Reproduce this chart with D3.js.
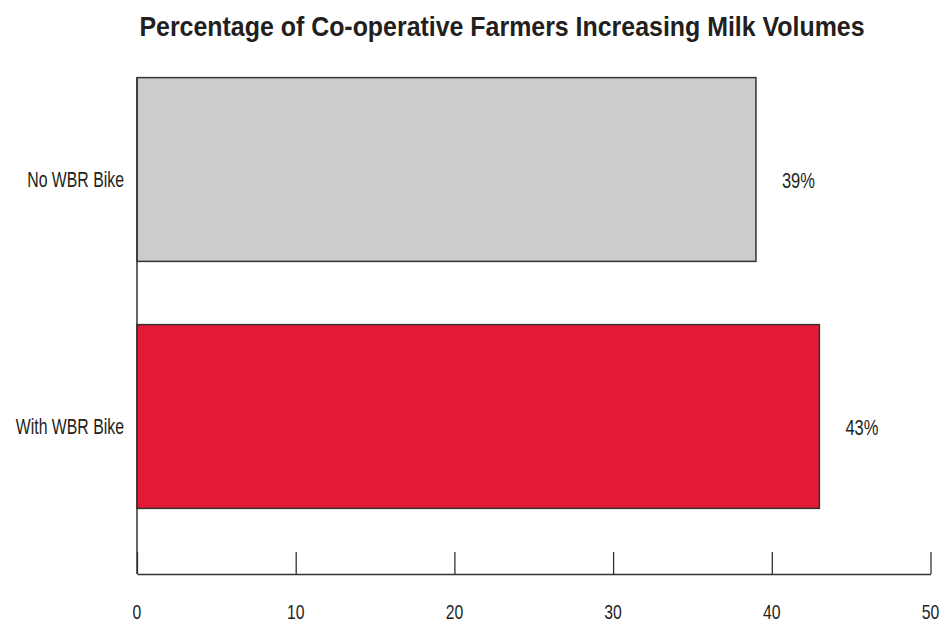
<!DOCTYPE html>
<html><head><meta charset="utf-8">
<script src="https://cdn.jsdelivr.net/npm/d3@7"></script>
<style>
html,body{margin:0;padding:0;background:#fff;}
svg{display:block;}
text{font-family:"Liberation Sans",Arial,sans-serif;fill:#231f20;}
</style></head>
<body><svg id="c" width="941" height="623"></svg>
<script>
const title = "Percentage of Co-operative Farmers Increasing Milk Volumes";
const categories = ["No WBR Bike", "With WBR Bike"];
const values = [39, 43];
const valueLabels = ["39%", "43%"];
const barColors = ["#cccccc", "#e41a37"];
const xTicks = [0, 10, 20, 30, 40, 50];

const svg = d3.select("#c");
const x = d3.scaleLinear().domain([0, 50]).range([137, 930.5]);
const y = d3.scaleBand().domain(categories).range([46, 540]).paddingInner(0.256).paddingOuter(0.128);
const axisY = 574;

function sText(g, tx, ty, str, size, anchor, weight, sx) {
  return g.append("g").attr("transform", `translate(${tx},${ty}) scale(${sx},1)`)
    .append("text").attr("text-anchor", anchor).attr("font-size", size)
    .attr("font-weight", weight || "normal").text(str);
}

// title
sText(svg, 502, 36, title, 28, "middle", "bold", 0.89);

// bars
svg.selectAll("rect.bar").data(categories).join("rect").attr("class", "bar")
  .attr("x", x(0)).attr("y", d => y(d))
  .attr("width", (d, i) => x(values[i]) - x(0))
  .attr("height", y.bandwidth())
  .attr("fill", (d, i) => barColors[i])
  .attr("stroke", "#333").attr("stroke-width", 1.5);

// left axis line
svg.append("line").attr("x1", x(0)).attr("x2", x(0)).attr("y1", y(categories[0])).attr("y2", axisY)
  .attr("stroke", "#333").attr("stroke-width", 1.5);

// bottom axis
const xAxis = d3.axisBottom(x).tickValues(xTicks).tickSizeInner(-22).tickSizeOuter(0).tickPadding(0).tickFormat("");
const ax = svg.append("g").attr("transform", `translate(0,${axisY})`).call(xAxis);
ax.select(".domain").attr("stroke", "#333").attr("stroke-width", 1.5);
ax.selectAll(".tick line").attr("stroke", "#333").attr("stroke-width", 1.3);

// tick labels
xTicks.forEach(t => sText(svg, x(t), 619, String(t), 21, "middle", "normal", 0.75));

// category labels
categories.forEach((c, i) => sText(svg, 124, y(c) + y.bandwidth() / 2 + 17, c, 22, "end", "normal", 0.72));

// value labels
categories.forEach((c, i) => sText(svg, x(values[i]) + 26, y(c) + y.bandwidth() / 2 + 18, valueLabels[i], 22, "start", "normal", 0.75));
</script></body></html>
